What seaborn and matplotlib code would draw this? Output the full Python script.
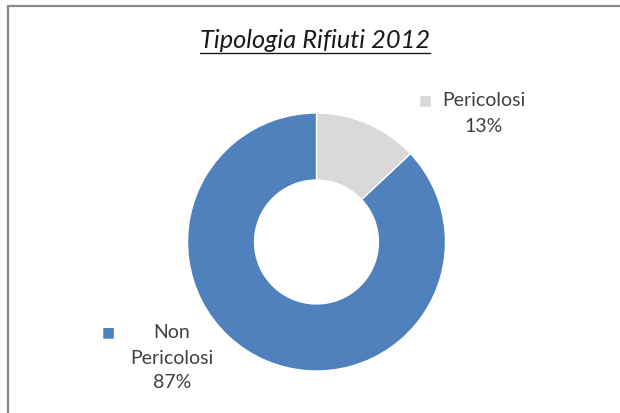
import matplotlib
matplotlib.use("Agg")
import matplotlib.pyplot as plt
from matplotlib.lines import Line2D
import seaborn as sns

categories = ["Pericolosi", "Non Pericolosi"]
values = [13, 87]
label_lines = [["Pericolosi", "13%"], ["Non", "Pericolosi", "87%"]]
title = "Tipologia Rifiuti 2012"

sns.set_theme(style="white")
plt.rcParams["font.family"] = ["Lato", "DejaVu Sans"]

colors = ["#D9D9D9", "#4F81BD"]
W, H = 620, 413
fig = plt.figure(figsize=(W / 100, H / 100), dpi=100)

cx, cy, r = 316.5, H - 242, 129
ax = fig.add_axes([(cx - r) / W, (cy - r) / H, 2 * r / W, 2 * r / H])
ax.pie(values, colors=colors, startangle=90, counterclock=False,
       wedgeprops=dict(width=0.52, edgecolor="white", linewidth=1))
ax.set_xlim(-1, 1)
ax.set_ylim(-1, 1)
ax.set_aspect("equal")
ax.axis("off")

# border (partially visible frame)
fig.add_artist(Line2D([8 / W, 8 / W], [0, (H - 6) / H], color="#888888", lw=1.6, transform=fig.transFigure))
fig.add_artist(Line2D([8 / W, 1], [(H - 6) / H, (H - 6) / H], color="#888888", lw=1.6, transform=fig.transFigure))

# title with underline
t = fig.text(315 / W, (H - 41) / H, title, ha="center", va="center", fontsize=18.3,
             style="italic", color="#1a1a1a")
fig.canvas.draw()
bb = t.get_window_extent()
uy = (H - 53) / H
fig.add_artist(Line2D([bb.x0 / W, bb.x1 / W], [uy, uy], color="#1a1a1a", lw=1.0, transform=fig.transFigure))

txtc = "#404040"
fs = 14
# label Pericolosi
fig.text(425 / W, (H - 100) / H, "■", color=colors[0], fontsize=10, ha="center", va="center",
         family=["DejaVu Sans"])
fig.text(484 / W, (H - 100) / H, label_lines[0][0], color=txtc, fontsize=fs, ha="center", va="center")
fig.text(484 / W, (H - 126) / H, label_lines[0][1], color=txtc, fontsize=fs, ha="center", va="center")
# label Non Pericolosi
fig.text(108 / W, (H - 332) / H, "■", color=colors[1], fontsize=10, ha="center", va="center",
         family=["DejaVu Sans"])
for i, s in enumerate(label_lines[1]):
    fig.text(172 / W, (H - 333 - 25 * i) / H, s, color=txtc, fontsize=fs, ha="center", va="center")

fig.savefig("out.png", dpi=100, facecolor="white")
